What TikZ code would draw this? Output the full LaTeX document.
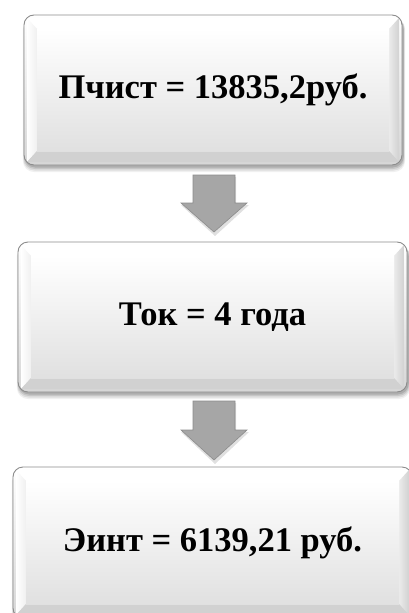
\documentclass[tikz,border=0pt]{standalone}
\usepackage{fontspec}
\setmainfont{Liberation Serif}
\usetikzlibrary{calc}
\tikzset{
  boxtext/.style={font=\bfseries\fontsize{34.5}{40}\selectfont, text=black, inner sep=0pt},
  arrowfill/.style={fill=black!35, draw=black!45, line width=0.6pt, line join=miter},
}
\newcommand\bevbox[6]{%
  % soft shadow
  \foreach \s/\o in {7/0.06,5.5/0.08,4/0.10,2.5/0.12}{
    \fill[black, opacity=\o, rounded corners=11pt] (#1+1-\s*0.3,#2+3) rectangle (#3+1+\s*0.3,#4+\s);
  }
  % outer body
  \shade[top color=white, bottom color=black!16, rounded corners=10pt] (#1,#2) rectangle (#3,#4);
  % bevels
  \fill[white] (#1+3,#2+3) -- (#3-3,#2+3) -- (#3-13,#2+14) -- (#1+13,#2+14) -- cycle;
  \shade[left color=white, right color=black!6] (#1+3,#2+3) -- (#1+13,#2+14) -- (#1+13,#4-14) -- (#1+3,#4-3) -- cycle;
  \shade[left color=black!8, right color=black!18] (#3-3,#2+3) -- (#3-13,#2+14) -- (#3-13,#4-14) -- (#3-3,#4-3) -- cycle;
  \fill[black!18] (#1+3,#4-3) -- (#1+13,#4-14) -- (#3-13,#4-14) -- (#3-3,#4-3) -- cycle;
  % face
  \shade[top color=white, bottom color=black!12] (#1+13,#2+14) rectangle (#3-13,#4-14);
  % border
  \draw[black!45, line width=0.9pt, rounded corners=10pt] (#1,#2) rectangle (#3,#4);
  \node[boxtext] (#5) at ({(#1+#3)/2},{(#2+#4)/2}) {#6};
}
\newcommand\flowarrow[4]{% cx, top, headbase, tip
  \fill[black, opacity=0.12] (#1-20,#2+2) -- (#1+22,#2+2) -- (#1+22,#3+2) -- (#1+35,#3+2) -- (#1+1,#4+4) -- (#1-33,#3+2) -- (#1-20,#3+2) -- cycle;
  \path[arrowfill] (#1-21,#2) -- (#1+21,#2) -- (#1+21,#3) -- (#1+33,#3) -- (#1,#4) -- (#1-33,#3) -- (#1-21,#3) -- cycle;
}
\begin{document}
\begin{tikzpicture}[x=1pt,y=-1pt]
\useasboundingbox (0,0) rectangle (409,613);
\fill[white] (0,0) rectangle (409,613);
\bevbox{24}{15}{402}{165}{b1}{Пчист = 13835,2руб.}
\bevbox{18}{242}{407}{392}{b2}{Ток = 4 года}
\bevbox{13}{467}{412}{618}{b3}{Эинт = 6139,21 руб.}
\flowarrow{214}{175}{203}{232}
\flowarrow{214}{401}{430}{460}
\end{tikzpicture}
\end{document}
